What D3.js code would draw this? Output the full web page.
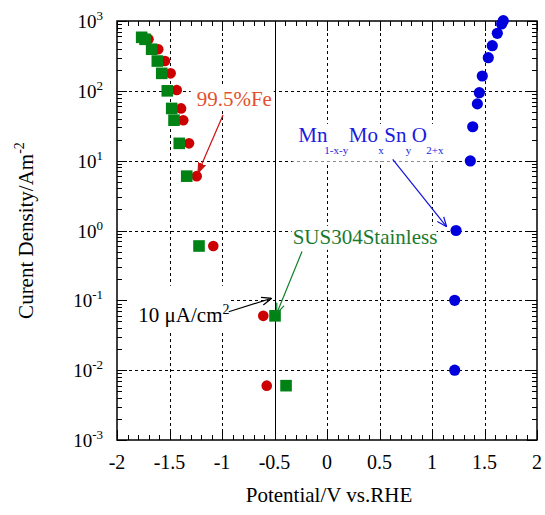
<!DOCTYPE html>
<html>
<head>
<meta charset="utf-8">
<script src="https://cdn.jsdelivr.net/npm/d3@7"></script>
<style>
body { margin: 0; background: #fff; }
text { font-family: "Liberation Serif", "Times New Roman", serif; }
</style>
</head>
<body>
<div id="plot"></div>
<script>
// 99.5%Fe (red circles)
var feV = [-1.700, -1.607, -1.543, -1.489, -1.431, -1.390, -1.369, -1.314, -1.241, -1.083, -0.607, -0.574];
var feJ = [550, 394, 267, 178, 103, 56, 38, 17.7, 6.0, 0.60, 0.06, 0.006];
// SUS304 stainless (green squares)
var susV = [-1.765, -1.733, -1.670, -1.616, -1.574, -1.521, -1.479, -1.457, -1.407, -1.336, -1.219, -0.495, -0.390];
var susJ = [584, 547, 394, 267, 178, 100, 56, 38, 17.7, 6.0, 0.60, 0.06, 0.006];
// Mn1-x-yMoxSnyO2+x (blue circles)
var mnV = [1.679, 1.663, 1.622, 1.574, 1.536, 1.479, 1.451, 1.432, 1.388, 1.365, 1.229, 1.216, 1.216];
var mnJ = [1010, 906, 667, 443, 298, 163, 94, 65, 30.6, 9.9, 1.0, 0.1, 0.01];

// axis ticks
var xTicks = [-2, -1.5, -1, -0.5, 0, 0.5, 1, 1.5, 2];
var yExps = [-3, -2, -1, 0, 1, 2, 3];

// annotations: [V, J] of label and arrow start/end
var feLabel = [-1.241, 59.7], feArrow = [[-0.99, 45], [-1.229, 6.65]];
var susLabel = [-0.327, 0.634], susArrow = [[-0.238, 0.5], [-0.479, 0.065]];
var uaLabel = [-1.797, 0.0494], uaArrow = [[-0.936, 0.0687], [-0.527, 0.107]];
var mnLabel = [-0.273, 18.3], mnArrow = [[0.626, 10.4], [1.14, 1.13]];

var margin = {top: 21, right: 8, bottom: 75, left: 117},
    width = 545 - margin.left - margin.right,
    height = 515 - margin.top - margin.bottom;

var svgRoot = d3.select("#plot").append("svg")
    .attr("width", 545)
    .attr("height", 515);
var svg = svgRoot.append("g")
    .attr("transform", "translate(" + margin.left + "," + margin.top + ")");

var x = d3.scaleLinear().domain([-2, 2]).range([0, width]);
var y = d3.scaleLog().domain([1e-3, 1e3]).range([height, 0]);

// arrow heads
var defs = svgRoot.append("defs");
function marker(id, color, filled) {
    defs.append("marker").attr("id", id)
        .attr("viewBox", "0 0 10 10").attr("refX", 10).attr("refY", 5)
        .attr("markerWidth", 10).attr("markerHeight", 10)
        .attr("markerUnits", "userSpaceOnUse").attr("orient", "auto")
        .append("path").attr("d", filled ? "M0,1.5 L10,5 L0,8.5 Z" : "M0,1 L10,5 L0,9")
        .attr("fill", filled ? color : "none").attr("stroke", color).attr("stroke-width", 1.2);
}
marker("ah-red", "#cc1111", true);
marker("ah-green", "#11802a", false);
marker("ah-black", "#000", false);
marker("ah-blue", "#1111dd", false);

// ticks, all four sides, pointing inward
var xMinor = d3.range(-20, 21).filter(i => i % 5 !== 0).map(i => i / 10);
var yMajor = yExps.map(e => Math.pow(10, e));
var yMinor = [];
yExps.slice(0, -1).forEach(function(e) {
    for (var k = 2; k <= 9; k++) yMinor.push(k * Math.pow(10, e));
});

function ticks(axis, values, size, transform) {
    var g = svg.append("g").attr("class", "axis")
        .attr("transform", transform)
        .attr("shape-rendering", "crispEdges")
        .call(axis.tickValues(values).tickSize(-size).tickFormat(""));
    g.select(".domain").remove();
    g.selectAll("text").remove();
    g.selectAll("line").attr("stroke", "#000").attr("stroke-width", 1);
    return g;
}
ticks(d3.axisBottom(x), xTicks, 10, "translate(0," + height + ")");
ticks(d3.axisBottom(x), xMinor, 5, "translate(0," + height + ")");
ticks(d3.axisTop(x), xTicks, 10, "translate(0,0)");
ticks(d3.axisTop(x), xMinor, 5, "translate(0,0)");
ticks(d3.axisLeft(y), yMajor, 10, "translate(0,0)");
ticks(d3.axisLeft(y), yMinor, 5, "translate(0,0)");
ticks(d3.axisRight(y), yMajor, 10, "translate(" + width + ",0)");
ticks(d3.axisRight(y), yMinor, 5, "translate(" + width + ",0)");

// tick labels
svg.append("g").selectAll("text").data(xTicks).enter().append("text")
    .attr("x", d => x(d)).attr("y", height + 29)
    .attr("text-anchor", "middle")
    .style("font-size", "20px")
    .text(d => String(d));
var yl = svg.append("g").selectAll("text").data(yExps).enter().append("text")
    .attr("x", -14).attr("y", d => y(Math.pow(10, d)) + 7)
    .attr("text-anchor", "end")
    .style("font-size", "19px");
yl.append("tspan").text("10");
yl.append("tspan").attr("dy", -8).style("font-size", "13px").text(d => String(d));

// axis titles
svg.append("text")
    .attr("x", width / 2 + 2).attr("y", height + 62)
    .attr("text-anchor", "middle")
    .style("font-size", "21px")
    .text("Potential/V vs.RHE");
var yt = svg.append("text")
    .attr("transform", "rotate(-90)")
    .attr("x", -height / 2).attr("y", -margin.left + 33)
    .attr("text-anchor", "middle")
    .style("font-size", "21px");
yt.append("tspan").text("Curent Density/Am");
yt.append("tspan").attr("dy", -9).style("font-size", "14px").text("-2");

// grid: dotted, except the solid line at -0.5 V
var grid = svg.append("g");
grid.selectAll(".gx").data(xTicks.slice(1, -1)).enter().append("line")
    .attr("x1", d => Math.round(x(d)) + 0.5).attr("x2", d => Math.round(x(d)) + 0.5)
    .attr("y1", 0).attr("y2", height)
    .attr("stroke", "#000").attr("stroke-width", 1)
    .attr("stroke-dasharray", d => d === -0.5 ? null : "3,3");
grid.selectAll(".gy").data(yExps.slice(1, -1)).enter().append("line")
    .attr("x1", 0).attr("x2", width)
    .attr("y1", d => Math.round(y(Math.pow(10, d))) + 0.5)
    .attr("y2", d => Math.round(y(Math.pow(10, d))) + 0.5)
    .attr("stroke", "#000").attr("stroke-width", 1)
    .attr("stroke-dasharray", "3,3");

// frame
svg.append("rect")
    .attr("width", width).attr("height", height)
    .attr("fill", "none").attr("stroke", "#000").attr("stroke-width", 1.5);

// white boxes behind the labels: [left, top, right, bottom] offsets from the label anchor
function box(pos, ext, opacity) {
    var lx = x(pos[0]), ly = y(pos[1]);
    svg.append("rect")
        .attr("x", lx + ext[0]).attr("y", ly + ext[1])
        .attr("width", ext[2] - ext[0]).attr("height", ext[3] - ext[1])
        .attr("fill", "#fff").attr("fill-opacity", opacity || 1);
}
box(feLabel, [-6, -19.5, 77, 3]);
box(susLabel, [-1, -18.5, 144, 5.5]);
box(uaLabel, [-11, -36, 92, 10]);
var mnTop = -18.5, mnLine = Math.round(y(10)) - y(mnLabel[1]);
box(mnLabel, [-6, mnTop, 147, mnLine]);
box(mnLabel, [-6, mnLine, 147, mnLine + 1], 0.55);

// points
svg.append("g").selectAll("circle").data(feV).enter().append("circle")
    .attr("cx", d => x(d))
    .attr("cy", (d, i) => y(feJ[i]))
    .attr("r", 5.3)
    .attr("fill", "#cc0000");
svg.append("g").selectAll("rect").data(susV).enter().append("rect")
    .attr("x", d => x(d) - 5.8)
    .attr("y", (d, i) => y(susJ[i]) - 5.8)
    .attr("width", 11.6).attr("height", 11.6)
    .attr("fill", "#008214");
svg.append("g").selectAll("circle").data(mnV).enter().append("circle")
    .attr("cx", d => x(d))
    .attr("cy", (d, i) => y(mnJ[i]))
    .attr("r", 5.6)
    .attr("fill", "#0000dd");

// arrows
function arrow(a, color, id) {
    svg.append("line")
        .attr("x1", x(a[0][0])).attr("y1", y(a[0][1]))
        .attr("x2", x(a[1][0])).attr("y2", y(a[1][1]))
        .attr("stroke", color).attr("stroke-width", 1.2)
        .attr("marker-end", "url(#" + id + ")");
}
arrow(feArrow, "#cc1111", "ah-red");
arrow(susArrow, "#11802a", "ah-green");
arrow(uaArrow, "#000", "ah-black");
arrow(mnArrow, "#1111dd", "ah-blue");

// labels
function label(pos, str, color) {
    return svg.append("text")
        .attr("x", x(pos[0])).attr("y", y(pos[1]))
        .attr("fill", color)
        .style("font-size", "21px")
        .text(str);
}
label(feLabel, "99.5%Fe", "#e2502e");
label(susLabel, "SUS304Stainless", "#1b7a30");
var uaT = label(uaLabel, "10 μA/cm", "#000");
uaT.append("tspan").attr("dy", -7.5).style("font-size", "14px").text("2");

// Mn1-x-yMoxSnyO2+x formula
var mx = x(mnLabel[0]), my = y(mnLabel[1]);
var mnT = svg.append("text").attr("fill", "#1a1ae0").style("font-size", "21px");
var parts = [["Mn", 0, 0, 21], ["1-x-y", 26, 12, 11], ["Mo", 50.5, 0, 21], ["x", 80, 12, 11],
             ["Sn", 86, 0, 21], ["y", 107.5, 12, 11], ["O", 113.5, 0, 21], ["2+x", 128, 12, 11]];
parts.forEach(function(p) {
    mnT.append("tspan").attr("x", mx + p[1]).attr("y", my + p[2])
        .style("font-size", p[3] + "px").text(p[0]);
});
</script>
</body>
</html>
